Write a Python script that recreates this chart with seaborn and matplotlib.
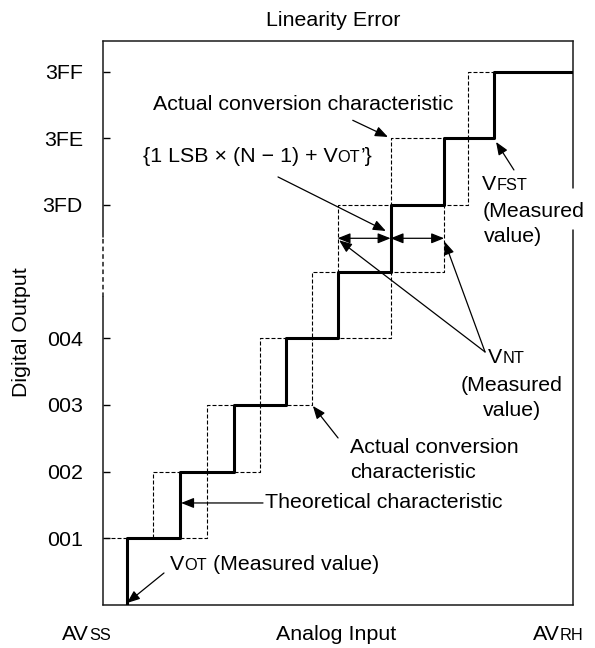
import matplotlib
matplotlib.use('Agg')
import matplotlib.pyplot as plt
from matplotlib.patches import ArrowStyle
import seaborn as sns

# ---- data (x in LSB steps, y in output code levels) ----
levels = [1, 2, 3, 4, 5, 6, 7, 8]
tick_pos = [1, 2, 3, 4, 6, 7, 8]
tick_labels = ['001', '002', '003', '004', '3FD', '3FE', '3FF']

# x where the theoretical characteristic rises from code k to k+1
theo_rise = [0.0, 1.02, 2.04, 3.04, 4.02, 5.03, 6.05, 7.0]
# actual conversion characteristic, early edge (rises to codes 1..8)
actual_lo_rise = [-0.5, 0.5, 1.53, 2.54, 3.53, 4.02, 5.03, 6.5]
# actual conversion characteristic, late edge (rises to codes 2..8)
actual_hi_rise = [1.53, 2.54, 3.53, 5.03, 6.05, 6.5, 7.0]
x_end = 8.6

# build step paths
theo_x = [theo_rise[0]] + theo_rise + [x_end]
theo_y = [0] + levels + [8]
lo_x = [actual_lo_rise[0]] + actual_lo_rise + [7.0]
lo_y = [0] + levels + [8]
hi_x = [theo_rise[1]] + actual_hi_rise
hi_y = [1] + levels[1:]

sns.set_theme(style='white')
plt.rcParams['font.family'] = ['Liberation Sans', 'DejaVu Sans']
plt.rcParams['text.color'] = 'black'
plt.rcParams['ytick.color'] = 'black'
plt.rcParams['axes.labelcolor'] = 'black'

BIG = 15.4
SMALL = 11.8
INK = '#1a1a1a'
DESC = 0.21  # descent of the font, in em

fig = plt.figure(figsize=(5.95, 6.48), dpi=100)
ax = fig.add_axes([0.1731, 0.0664, 0.7899, 0.8704])

dash = (0, (3.6, 1.8))
sns.lineplot(x=lo_x, y=lo_y, ax=ax, drawstyle='steps-post', sort=False,
             estimator=None, color='black', lw=0.8, ls=dash, zorder=2)
sns.lineplot(x=hi_x, y=hi_y, ax=ax, drawstyle='steps-post', sort=False,
             estimator=None, color='black', lw=0.8, ls=dash, zorder=2)
sns.lineplot(x=theo_x, y=theo_y, ax=ax, drawstyle='steps-post', sort=False,
             estimator=None, color='black', lw=2.2, zorder=3)

ax.set_xlim(-0.448, 8.505)
ax.set_ylim(0, 8.46)
ax.set_xticks([])
ax.set_yticks(tick_pos)
ax.set_yticklabels(tick_labels)
ax.tick_params(axis='y', direction='in', length=5, width=1, pad=14.5,
               labelsize=BIG, colors='black', left=True)
ax.set_xlabel('')
ax.set_ylabel('')

# frame: top / bottom normal, left broken (dashed), right with a gap
for side in ['top', 'bottom']:
    ax.spines[side].set_color(INK)
    ax.spines[side].set_linewidth(1.1)
ax.spines['left'].set_visible(False)
ax.spines['right'].set_visible(False)
tr = ax.transAxes
ax.plot([0, 0], [0, 0.546], color=INK, lw=1.1, transform=tr, clip_on=False)
ax.plot([0, 0], [0.546, 0.652], color=INK, lw=1.1, ls=(0, (3, 2)),
        transform=tr, clip_on=False)
ax.plot([0, 0], [0.652, 1], color=INK, lw=1.1, transform=tr, clip_on=False)
ax.plot([1, 1], [0, 0.665], color=INK, lw=1.1, transform=tr, clip_on=False)
ax.plot([1, 1], [0.739, 1], color=INK, lw=1.1, transform=tr, clip_on=False)


def chain_text(x, y, parts):
    # parts: list of (string, small caps?) drawn one after another on one baseline
    s, small = parts[0]
    size = SMALL if small else BIG
    prev = ax.text(x, y, s, fontsize=size, va='center', ha='left', zorder=5)
    for s, small in parts[1:]:
        new = SMALL if small else BIG
        off = DESC * (size - new)
        prev = ax.annotate(s, xy=(1, 0), xycoords=prev, xytext=(0, off),
                           textcoords='offset points', va='bottom',
                           ha='left', fontsize=new, zorder=5)
        size = new
    return prev


head = ArrowStyle('-|>', head_length=0.55, head_width=0.22)
dhead = ArrowStyle('<|-|>', head_length=0.55, head_width=0.22)


def arrow(tail, tip, style=head):
    ax.annotate('', xy=tip, xytext=tail,
                arrowprops=dict(arrowstyle=style, lw=0.9, color='black',
                                mutation_scale=14, shrinkA=0, shrinkB=0),
                zorder=4)


# top "actual conversion characteristic"
ax.text(0.505, 7.5, 'Actual conversion characteristic', fontsize=BIG,
        va='center', ha='left')
arrow((4.31, 7.27), (4.98, 7.02))

# {1 LSB x (N-1) + VOT'}
chain_text(0.314, 6.72, [('{1 LSB \u00d7 (N \u2212 1) + V', False),
                         ('OT', True), ('\u2019}', False)])
arrow((2.886, 6.42), (4.94, 5.61))

# double arrows between edges
arrow((actual_lo_rise[5], 5.5), (theo_rise[5], 5.5), dhead)
arrow((theo_rise[5], 5.5), (actual_hi_rise[4], 5.5), dhead)

# VNT (Measured value)
chain_text(6.886, 3.705, [('V', False), ('NT', True)])
ax.text(7.343, 3.285, '(Measured', fontsize=BIG, va='center', ha='center')
ax.text(7.343, 2.91, 'value)', fontsize=BIG, va='center', ha='center')
arrow((6.83, 3.795), (4.05, 5.47))
arrow((6.83, 3.795), (6.06, 5.45))

# VFST (Measured value)
chain_text(6.771, 6.30, [('V', False), ('FST', True)])
ax.text(6.79, 5.895, '(Measured', fontsize=BIG, va='center', ha='left',
        clip_on=False)
ax.text(6.81, 5.52, 'value)', fontsize=BIG, va='center', ha='left')
arrow((7.38, 6.525), (7.04, 6.945))

# lower "actual conversion characteristic"
ax.text(4.257, 2.355, 'Actual conversion', fontsize=BIG, va='center', ha='left')
ax.text(4.257, 1.98, 'characteristic', fontsize=BIG, va='center', ha='left')
arrow((4.03, 2.505), (3.55, 2.985))

# theoretical characteristic
ax.text(2.638, 1.53, 'Theoretical characteristic', fontsize=BIG,
        va='center', ha='left')
arrow((2.6, 1.53), (1.04, 1.53))

# VOT (Measured value)
chain_text(0.829, 0.60, [('V', False), ('OT', True), (' (Measured value)', False)])
arrow((0.714, 0.48), (0.01, 0.03))

# figure-level labels
H = 648.0
W = 595.0
fig.text(333 / W, 1 - 20 / H, 'Linearity Error', fontsize=BIG, ha='center',
         va='center')
fig.text(22 / W, 1 - 332 / H, 'Digital Output', fontsize=BIG, rotation=90,
         ha='center', va='center')
fig.text(336.5 / W, 1 - 640 / H, 'Analog Input', fontsize=BIG, ha='center',
         va='baseline')
fig.text(89 / W, 1 - 640 / H, 'AV', fontsize=BIG, ha='right', va='baseline')
fig.text(89 / W, 1 - 640 / H, 'SS', fontsize=SMALL, ha='left', va='baseline')
fig.text(560 / W, 1 - 640 / H, 'AV', fontsize=BIG, ha='right', va='baseline')
fig.text(560 / W, 1 - 640 / H, 'RH', fontsize=SMALL, ha='left', va='baseline')

fig.savefig('out.png', dpi=100, facecolor='white')
plt.close(fig)
